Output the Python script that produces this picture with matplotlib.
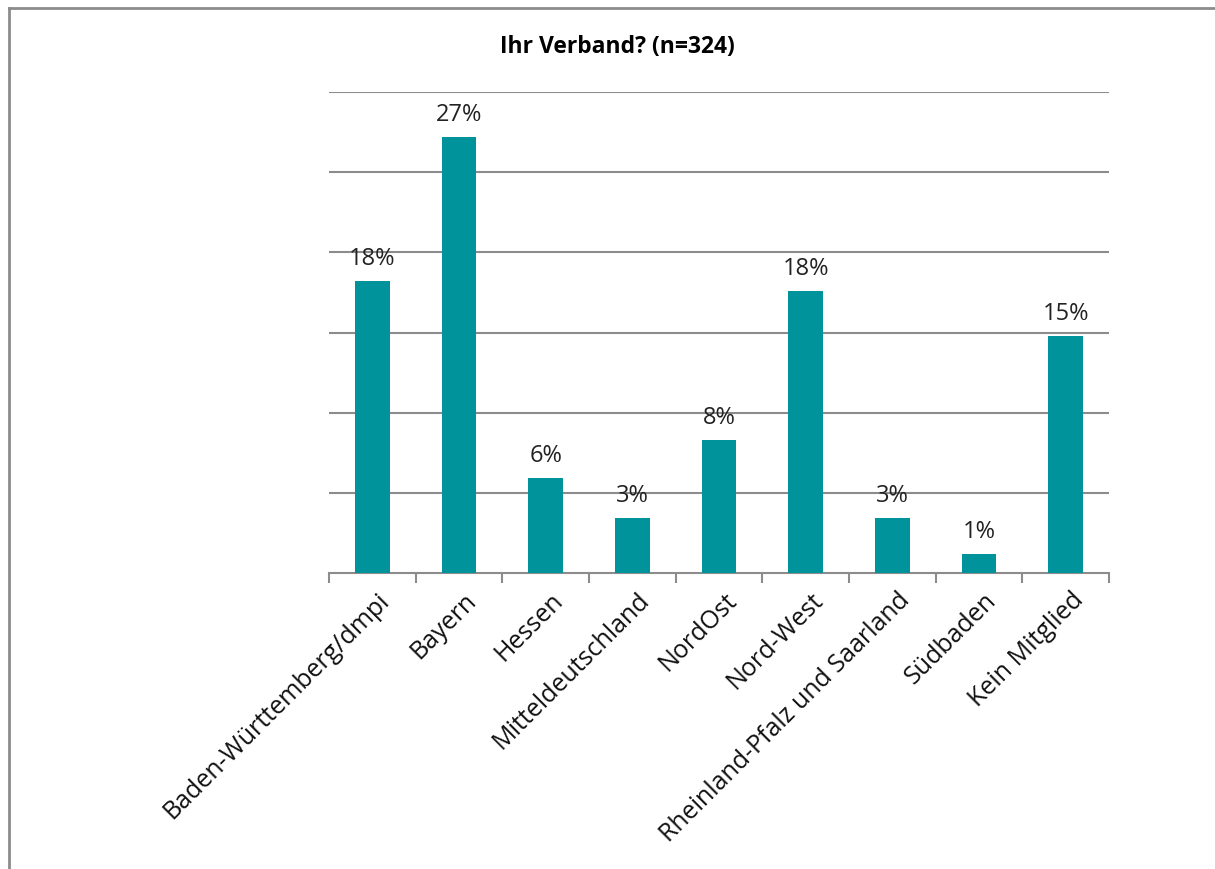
import numpy as np
import matplotlib.pyplot as plt
import matplotlib.transforms as mtransforms
from matplotlib.lines import Line2D

plt.rcParams['font.family'] = ['Open Sans', 'DejaVu Sans']

# data (share of n=324, in %)
categories = ['Baden-Württemberg/dmpi', 'Bayern', 'Hessen', 'Mitteldeutschland',
              'NordOst', 'Nord-West', 'Rheinland-Pfalz und Saarland', 'Südbaden',
              'Kein Mitglied']
values = [18.2, 27.2, 5.9, 3.4, 8.3, 17.6, 3.4, 1.2, 14.8]
title = 'Ihr Verband? (n=324)'

bar_color = '#00939b'
grid_color = '#8c8c8c'

fig = plt.figure(figsize=(12.15, 8.7), dpi=100)
ax = fig.add_axes([329 / 1215, 1 - 574 / 870, 780 / 1215, 481 / 870])

x = np.arange(len(categories))
bars = ax.bar(x, values, width=0.4, color=bar_color, zorder=3)

for xi, v in zip(x, values):
    ax.annotate(f'{v:.0f}%', (xi, v), xytext=(0, 8), textcoords='offset points',
                ha='center', va='bottom', fontsize=17, color='#222222')

ax.set_xlim(-0.5, len(categories) - 0.5)
ax.set_ylim(0, 30)
ax.set_yticks(np.arange(5, 31, 5))
ax.yaxis.grid(True, color=grid_color, linewidth=1.5, zorder=0)
ax.tick_params(axis='y', length=0, labelleft=False)

for s in ['top', 'right', 'left']:
    ax.spines[s].set_visible(False)
ax.spines['bottom'].set_color(grid_color)
ax.spines['bottom'].set_linewidth(1.5)

ax.set_xticks(x)
ax.set_xticklabels(categories, rotation=45, ha='right', rotation_mode='anchor',
                   fontsize=18, color='#111111')
ax.tick_params(axis='x', which='major', length=0, pad=10)
shift = mtransforms.ScaledTranslation(5 / 100, 0, fig.dpi_scale_trans)
for lbl in ax.get_xticklabels():
    lbl.set_transform(lbl.get_transform() + shift)
ax.set_xticks(np.arange(-0.5, len(categories), 1), minor=True)
ax.tick_params(axis='x', which='minor', length=7, width=1.5, color=grid_color)

fig.text(617 / 1215, 1 - 47 / 870, title, ha='center', va='center',
         fontsize=16.5, fontweight='bold')

# outer chart frame (top and left edges visible)
fig.add_artist(Line2D([8.5 / 1215, 8.5 / 1215], [0, 1 - 8.5 / 870],
                      transform=fig.transFigure, color=grid_color, linewidth=2))
fig.add_artist(Line2D([8.5 / 1215, 1], [1 - 8.5 / 870, 1 - 8.5 / 870],
                      transform=fig.transFigure, color=grid_color, linewidth=2))

fig.savefig('out.png', dpi=100)
